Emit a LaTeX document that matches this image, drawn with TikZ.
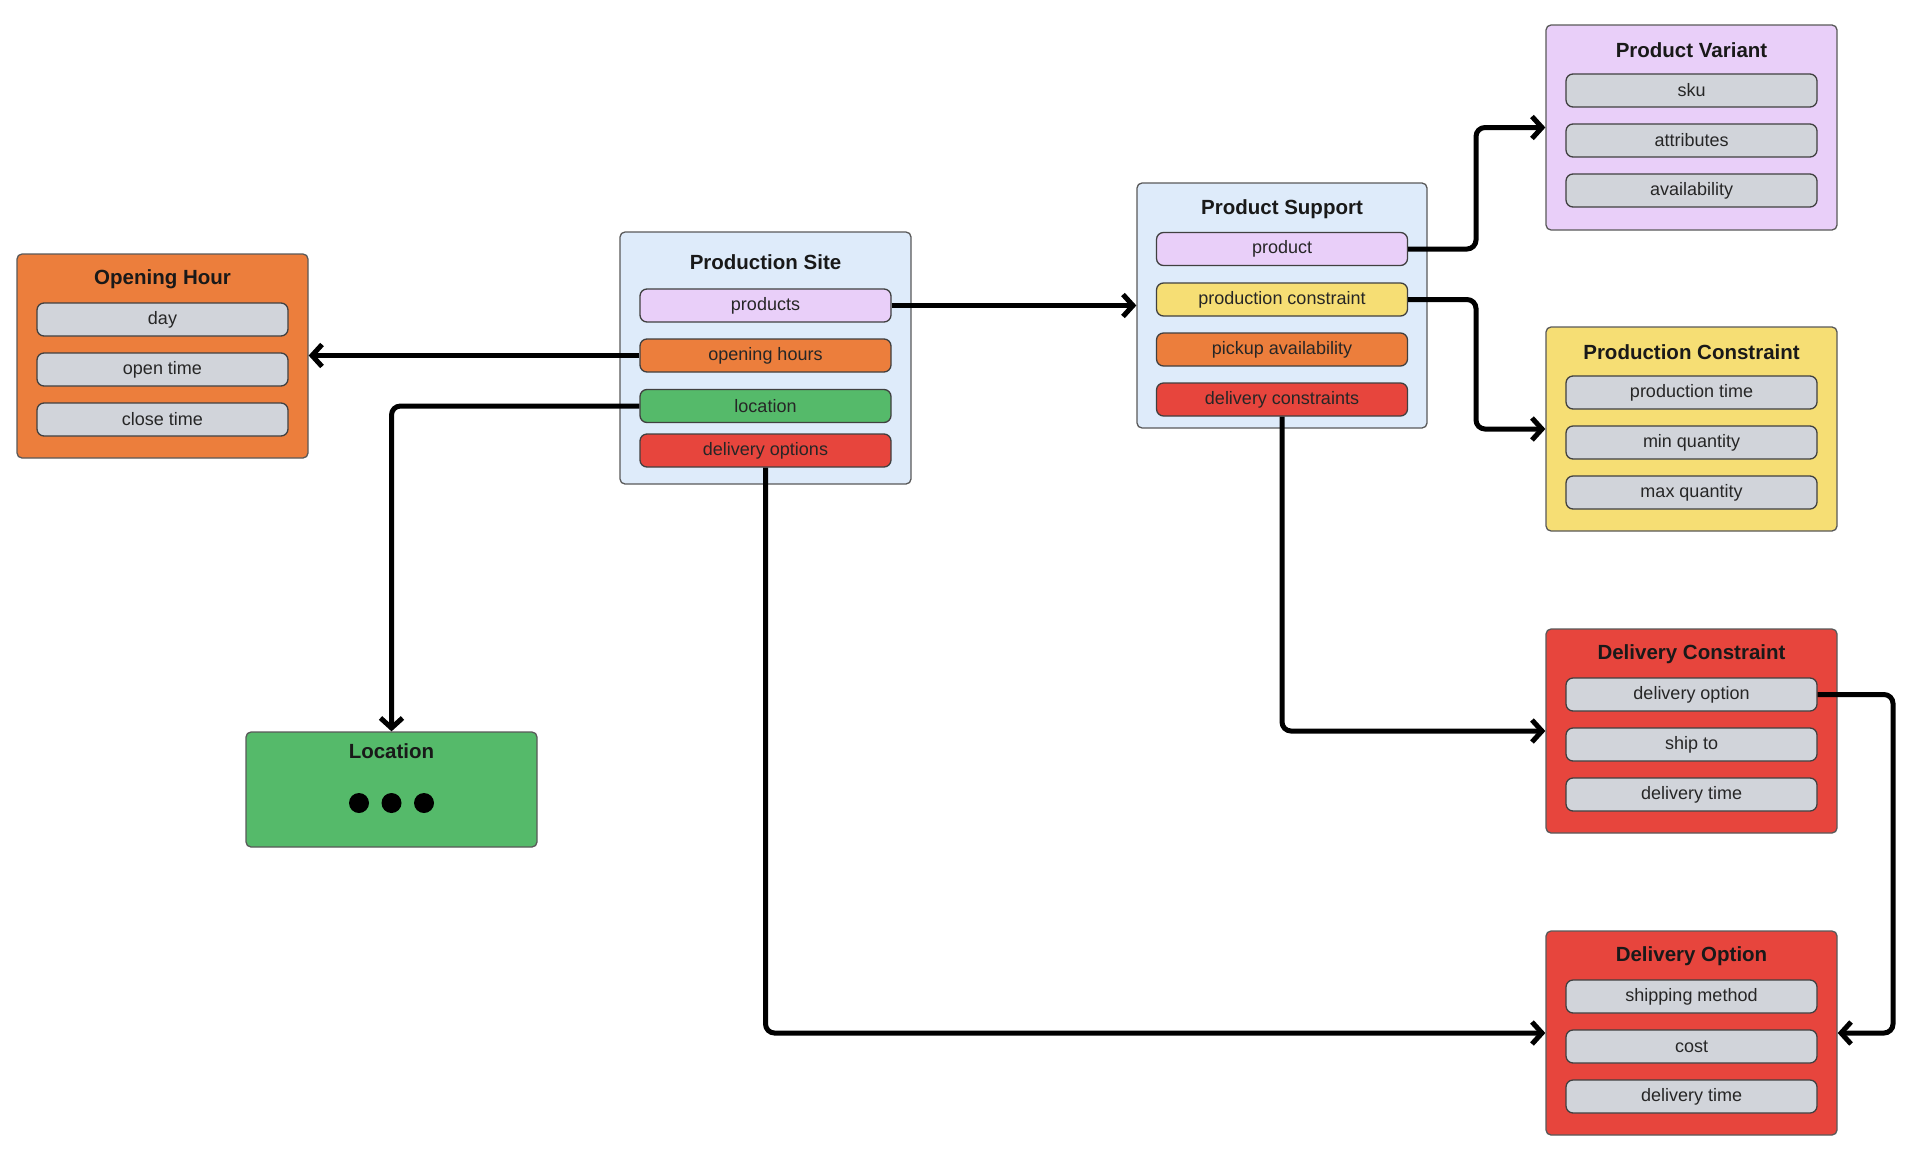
\documentclass[tikz,border=0pt]{standalone}
\usepackage{fontspec}
\setmainfont{Liberation Sans}
\usetikzlibrary{arrows.meta}
\definecolor{siteblue}{HTML}{DEEBFA}
\definecolor{lilac}{HTML}{E9CFF9}
\definecolor{hourorange}{HTML}{EC7E3C}
\definecolor{placegreen}{HTML}{55BA6A}
\definecolor{shipred}{HTML}{E7453D}
\definecolor{limityellow}{HTML}{F6DE74}
\definecolor{fieldgray}{HTML}{D1D4DA}

\begin{document}
\begin{tikzpicture}[x=1pt, y=-1pt,
  box/.style={draw=black!65, line width=1.3pt, rounded corners=5pt, minimum width=291pt, inner sep=0pt},
  field/.style={draw=black!75, line width=1.3pt, rounded corners=7pt, minimum width=251pt, minimum height=33pt, inner sep=0pt, text=black!85, font=\fontsize{18}{20}\selectfont},
  heading/.style={font=\bfseries\fontsize{20.5}{24}\selectfont, text=black!90},
  dot/.style={circle, fill=black, minimum size=20pt, inner sep=0pt},
  link/.style={line width=5pt, rounded corners=9pt, -{Straight Barb[length=10pt, width=22pt]}}]
\useasboundingbox (0,0) rectangle (1926,1154);
% opening hour
\node[box, fill=hourorange, minimum height=204pt] (hour) at (162.5,356) {};
\node[heading] (hour-title) at (162.5,279) {Opening Hour};
\node[field, fill=fieldgray] (hour-day) at (162.5,319.5) {day};
\node[field, fill=fieldgray] (hour-open) at (162.5,369.5) {open time};
\node[field, fill=fieldgray] (hour-close) at (162.5,419.5) {close time};
% production site
\node[box, fill=siteblue, minimum height=252pt] (site) at (765.5,358) {};
\node[heading] (site-title) at (765.5,262) {Production Site};
\node[field, fill=lilac] (site-products) at (765.5,305.5) {products};
\node[field, fill=hourorange] (site-hours) at (765.5,355.5) {opening hours};
\node[field, fill=placegreen] (site-location) at (765.5,406) {location};
\node[field, fill=shipred] (site-delivery) at (765.5,450.5) {delivery options};
% location
\node[box, fill=placegreen, minimum height=115pt] (location) at (391.5,789.5) {};
\node[heading] (location-title) at (391.5,751) {Location};
\node[dot] (location-dot1) at (359,803) {};
\node[dot] (location-dot2) at (391.5,803) {};
\node[dot] (location-dot3) at (424,803) {};
% product support
\node[box, fill=siteblue, minimum width=290pt, minimum height=245pt] (support) at (1282,305.5) {};
\node[heading] (support-title) at (1282,209) {Product Support};
\node[field, fill=lilac] (support-product) at (1282,249) {product};
\node[field, fill=limityellow] (support-constraint) at (1282,299.5) {production constraint};
\node[field, fill=hourorange] (support-pickup) at (1282,349.5) {pickup availability};
\node[field, fill=shipred] (support-delivery) at (1282,399.5) {delivery constraints};
% product variant
\node[box, fill=lilac, minimum height=205pt] (variant) at (1691.5,127.5) {};
\node[heading] (variant-title) at (1691.5,50) {Product Variant};
\node[field, fill=fieldgray] (variant-sku) at (1691.5,90.5) {sku};
\node[field, fill=fieldgray] (variant-attributes) at (1691.5,140.5) {attributes};
\node[field, fill=fieldgray] (variant-availability) at (1691.5,190.5) {availability};
% production constraint
\node[box, fill=limityellow, minimum height=204pt] (constraint) at (1691.5,429) {};
\node[heading] (constraint-title) at (1691.5,352) {Production Constraint};
\node[field, fill=fieldgray] (constraint-time) at (1691.5,392.5) {production time};
\node[field, fill=fieldgray] (constraint-min) at (1691.5,442.5) {min quantity};
\node[field, fill=fieldgray] (constraint-max) at (1691.5,492.5) {max quantity};
% delivery constraint
\node[box, fill=shipred, minimum height=204pt] (dconstraint) at (1691.5,731) {};
\node[heading] (dconstraint-title) at (1691.5,654) {Delivery Constraint};
\node[field, fill=fieldgray] (dconstraint-option) at (1691.5,694.5) {delivery option};
\node[field, fill=fieldgray] (dconstraint-ship) at (1691.5,744.5) {ship to};
\node[field, fill=fieldgray] (dconstraint-time) at (1691.5,794.5) {delivery time};
% delivery option
\node[box, fill=shipred, minimum height=204pt] (option) at (1691.5,1033) {};
\node[heading] (option-title) at (1691.5,956) {Delivery Option};
\node[field, fill=fieldgray] (option-method) at (1691.5,996.5) {shipping method};
\node[field, fill=fieldgray] (option-cost) at (1691.5,1046.5) {cost};
\node[field, fill=fieldgray] (option-time) at (1691.5,1096.5) {delivery time};
% connectors
\coordinate (bend-mid) at (1476,0);
\coordinate (bend-right) at (1893,0);
\draw[link] (site-products.east) -- (site-products.east -| support.west);
\draw[link] (site-hours.west) -- (site-hours.west -| hour.east);
\draw[link] (site-location.west) -| (location.north);
\draw[link] (site-delivery.south) |- (option.west);
\draw[link] (support-product.east) -- (support-product.east -| bend-mid) |- (variant.west);
\draw[link] (support-constraint.east) -- (support-constraint.east -| bend-mid) |- (constraint.west);
\draw[link] (support-delivery.south) |- (dconstraint.west);
\draw[link] (dconstraint-option.east) -- (dconstraint-option.east -| bend-right) |- (option.east);
\end{tikzpicture}
\end{document}
